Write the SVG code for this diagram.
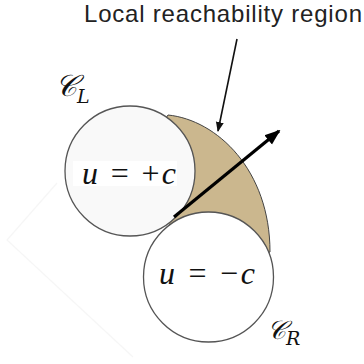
<svg xmlns="http://www.w3.org/2000/svg" width="364" height="364" viewBox="0 0 364 364">
<style>
.circ{stroke:#555;stroke-width:1.3}
.lbl{font-family:"Liberation Sans",Arial,sans-serif;fill:#222}
.math{font-family:"Liberation Serif","DejaVu Serif",serif;fill:#111}
.scr{font-family:"DejaVu Serif","DejaVu Sans",serif;font-style:italic;fill:#111}
</style>
<defs>
<marker id="ah" markerWidth="10" markerHeight="10" refX="9" refY="5" orient="auto" markerUnits="userSpaceOnUse">
<path d="M0,1 L10,5 L0,9 Z" fill="#111"/>
</marker>
<marker id="ah2" markerWidth="16" markerHeight="14" refX="14" refY="7" orient="auto" markerUnits="userSpaceOnUse">
<path d="M0,1 L16,7 L0,13 Z" fill="#000"/>
</marker>
</defs>
<rect width="364" height="364" fill="#fff"/>
<polyline points="57,183 7,240 133,357" fill="none" stroke="#f6f6f6" stroke-width="1.2"/>
<g id="region">
<path d="M168,115 C217,120 270,170 270,252 L208,277 L130,171 Z" fill="#cbb78e" stroke="#444" stroke-width="1"/>
</g>
<g id="circleL">
<circle class="circ" cx="130" cy="171" r="65" fill="#f9f9f9"/>
<rect x="73" y="161" width="104" height="25" fill="#fff"/>
<text class="math" x="82" y="184" font-size="32" textLength="94" lengthAdjust="spacing"><tspan font-style="italic">u</tspan> = +<tspan font-style="italic">c</tspan></text>
</g>
<g id="circleR">
<circle class="circ" cx="208.5" cy="277" r="65" fill="#fff"/>
<text class="math" x="159" y="284" font-size="32" textLength="96" lengthAdjust="spacing"><tspan font-style="italic">u</tspan> = −<tspan font-style="italic">c</tspan></text>
</g>
<g id="connectors">
<line x1="237" y1="39" x2="218" y2="131" stroke="#111" stroke-width="1.6" marker-end="url(#ah)"/>
<line x1="174" y1="217" x2="279" y2="131" stroke="#000" stroke-width="3.2" marker-end="url(#ah2)"/>
</g>
<g id="labels">
<text class="lbl" x="84" y="22" font-size="24" textLength="278" lengthAdjust="spacing">Local reachability region</text>
<text class="scr" x="55" y="96" font-size="30">𝒞<tspan font-size="19" dy="7">L</tspan></text>
<text class="scr" x="267" y="339" font-size="26">𝒞<tspan font-size="19" dy="6">R</tspan></text>
</g>
</svg>
